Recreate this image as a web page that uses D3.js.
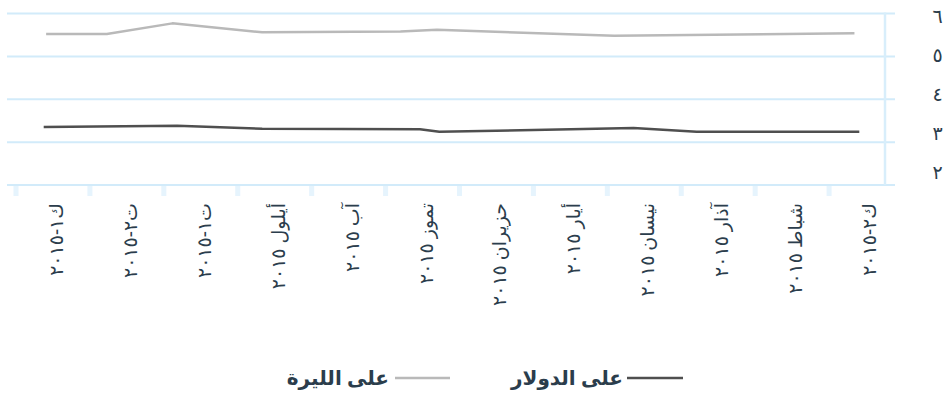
<!DOCTYPE html>
<html>
<head>
<meta charset="utf-8">
<script src="https://cdn.jsdelivr.net/npm/d3@7"></script>
<style>
  body { margin: 0; background: #fff; }
  svg { display: block; }
  text { font-family: "Noto Sans", "DejaVu Sans", sans-serif; fill: #2b3d4c; }
</style>
</head>
<body>
<svg id="chart" width="945" height="413"></svg>
<script>
// Month labels, newest on the left
const monthLabels = ["ك١-٢٠١٥", "ت٢-٢٠١٥", "ت١-٢٠١٥", "أيلول ٢٠١٥", "آب ٢٠١٥", "تموز ٢٠١٥",
                     "حزيران ٢٠١٥", "أيار ٢٠١٥", "نيسان ٢٠١٥", "آذار ٢٠١٥", "شباط ٢٠١٥", "ك٢-٢٠١٥"];

const yTicks = [2, 3, 4, 5, 6];
const yTickLabels = ["٢", "٣", "٤", "٥", "٦"];

const seriesNames = ["على الدولار", "على الليرة"];
const seriesColors = ["#4f4f4f", "#b9b9b9"];

const dollarDates  = ["2015-12-21", "2015-10-27", "2015-09-22", "2015-07-19", "2015-07-11", "2015-04-22", "2015-03-27", "2015-01-19"];
const dollarValues = [3.35, 3.38, 3.31, 3.30, 3.24, 3.33, 3.24, 3.24];

const liraDates  = ["2015-12-20", "2015-11-25", "2015-10-29", "2015-09-22", "2015-07-27", "2015-07-12", "2015-04-30", "2015-01-21"];
const liraValues = [5.52, 5.52, 5.77, 5.56, 5.58, 5.62, 5.48, 5.54];

const parse = d3.timeParse("%Y-%m-%d");
const svg = d3.select("#chart");

// Time runs right-to-left
const x = d3.scaleTime()
  .domain([new Date(2016, 0, 1), new Date(2015, 0, 1)])
  .range([17, 903]);
// Evenly spaced month slots for the category axis
const band = d3.scaleBand().domain(monthLabels).range([16, 903]);
const y = d3.scaleLinear().domain([2, 6]).range([185, 13.5]);
// Right-hand value labels sit on their own slightly tighter spacing
const yLabel = d3.scaleLinear().domain([2, 6]).range([179, 23]);

const gridColor = "#d2ebfa";

// Horizontal grid
svg.append("g").selectAll("line").data(yTicks).join("line")
  .attr("x1", 7).attr("x2", 895)
  .attr("y1", d => y(d)).attr("y2", d => y(d))
  .attr("stroke", gridColor).attr("stroke-width", 2);

// Right axis line
svg.append("line")
  .attr("x1", 885).attr("x2", 885)
  .attr("y1", y(6) - 1).attr("y2", y(2))
  .attr("stroke", "#d8eefb").attr("stroke-width", 2.5);

// Slot boundary ticks under the baseline
svg.append("g").selectAll("rect").data(monthLabels).join("rect")
  .attr("x", d => band(d) - 2.5).attr("y", y(2) + 1)
  .attr("width", 5).attr("height", 10)
  .attr("fill", "#e6f4fd");

// Month labels, rotated, centred in each slot
svg.append("g").selectAll("text").data(monthLabels).join("text")
  .attr("transform", d => `translate(${band(d) + band.bandwidth() / 2 + 10},203) rotate(-90)`)
  .attr("text-anchor", "end")
  .style("font-size", "19px")
  .text(d => d);

// Value labels on the right
svg.append("g").selectAll("text").data(yTicks).join("text")
  .attr("x", 937.5).attr("y", d => yLabel(d))
  .attr("text-anchor", "middle")
  .style("font-size", "19px")
  .text((d, i) => yTickLabels[i]);

// Series lines
const line = d3.line().x(d => x(d.date)).y(d => y(d.value));
const series = [
  dollarDates.map((s, i) => ({ date: parse(s), value: dollarValues[i] })),
  liraDates.map((s, i) => ({ date: parse(s), value: liraValues[i] }))
];
svg.append("g").selectAll("path").data(series).join("path")
  .attr("d", line)
  .attr("fill", "none")
  .attr("stroke", (d, i) => seriesColors[i])
  .attr("stroke-width", 2.5)
  .attr("stroke-linejoin", "round");

// Legend, laid out right-to-left
const legend = svg.append("g");
const legendItems = [
  { name: seriesNames[0], color: seriesColors[0], x1: 627, x2: 683, tx: 623 },
  { name: seriesNames[1], color: seriesColors[1], x1: 395, x2: 450, tx: 389 }
];
const legendY = 378;
legendItems.forEach(it => {
  legend.append("line")
    .attr("x1", it.x1).attr("x2", it.x2)
    .attr("y1", legendY).attr("y2", legendY)
    .attr("stroke", it.color).attr("stroke-width", 2.5);
  legend.append("text")
    .attr("x", it.tx).attr("y", legendY)
    .attr("dy", "0.35em")
    .attr("text-anchor", "end")
    .style("font-size", "20px").style("font-weight", "bold")
    .text(it.name);
});
</script>
</body>
</html>
